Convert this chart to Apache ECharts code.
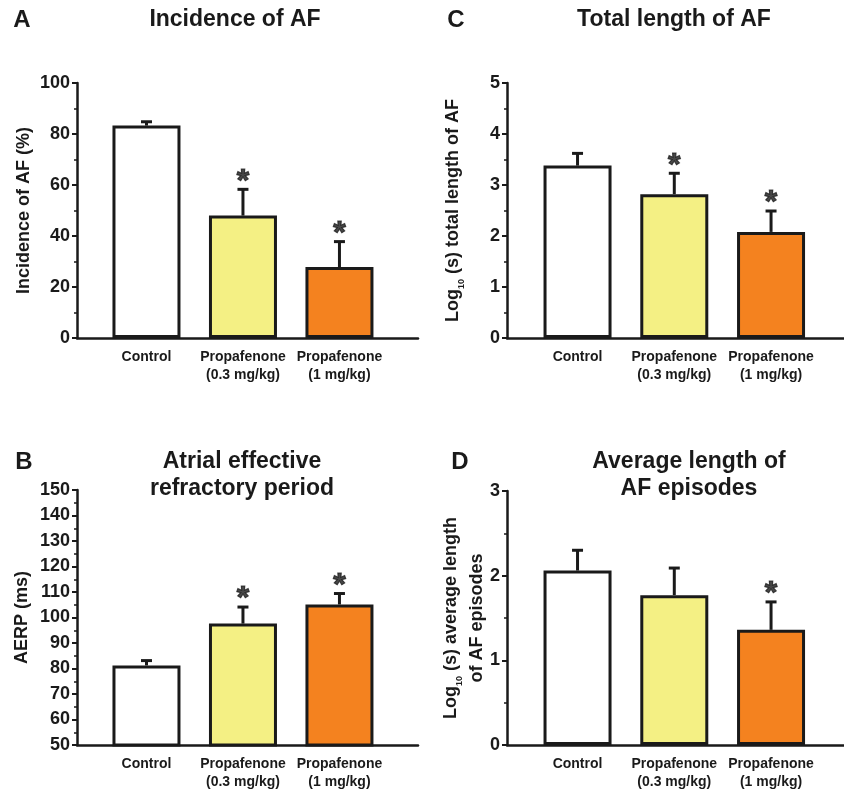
<!DOCTYPE html>
<html>
<head>
<meta charset="utf-8">
<script src="https://cdn.jsdelivr.net/npm/echarts@6/dist/echarts.min.js"></script>
<style>html,body{margin:0;padding:0;background:#fff}#c{width:844px;height:791px}</style>
</head>
<body>
<div id="c"></div>
<script>
// ---- data ----
const categories = ['Control', 'Propafenone\n(0.3 mg/kg)', 'Propafenone\n(1 mg/kg)'];
const incidenceMean = [83.3, 48.0, 27.8];
const incidenceSem  = [1.5, 10.3, 10.0];
const incidenceSig  = [false, true, true];
const aerpMean = [81.2, 97.6, 105.1];
const aerpSem  = [1.9, 6.5, 4.3];
const aerpSig  = [false, true, true];
const totalMean = [3.38, 2.82, 2.08];
const totalSem  = [0.24, 0.41, 0.41];
const totalSig  = [false, true, true];
const avgMean = [2.06, 1.77, 1.36];
const avgSem  = [0.24, 0.32, 0.33];
const avgSig  = [false, false, true];
const yTicksA = [0, 100, 20];
const yTicksB = [50, 150, 10];
const yTicksC = [0, 5, 1];
const yTicksD = [0, 3, 1];

// ---- styles ----
const barColors = ['#FFFFFF', '#F4F084', '#F4821F'];
const FONT = "'Liberation Sans', Arial, sans-serif";
const INK = '#1a1a1a';

const panels = [
  { grid: {left: 77, top: 83, width: 341, height: 255}, xr: [-0.72, 2.814], y: yTicksA,
    mean: incidenceMean, sem: incidenceSem, sig: incidenceSig,
    name: '{a|Incidence of AF (%)}', gap: 40 },
  { grid: {left: 77, top: 490, width: 341, height: 256}, xr: [-0.72, 2.814], y: yTicksB,
    mean: aerpMean, sem: aerpSem, sig: aerpSig,
    name: '{a|AERP (ms)}', gap: 42 },
  { grid: {left: 507, top: 83, width: 337, height: 255}, xr: [-0.729, 2.754], y: yTicksC,
    mean: totalMean, sem: totalSem, sig: totalSig,
    name: '{a|Log}{s|10}{a| (s) total length of AF}', gap: 41 },
  { grid: {left: 507, top: 491, width: 337, height: 256}, xr: [-0.729, 2.754], y: yTicksD,
    mean: avgMean, sem: avgSem, sig: avgSig,
    name: '{a|Log}{s|10}{a| (s) average length}\n{a|of AF episodes}', gap: 16 }
];

const grids = [], xAxes = [], yAxes = [], series = [];
panels.forEach((p, k) => {
  grids.push(p.grid);
  xAxes.push({
    type: 'value', gridIndex: k, min: p.xr[0], max: p.xr[1],
    axisLine: {show: true, onZero: false, lineStyle: {color: INK, width: 2.5}},
    axisTick: {show: false},
    splitLine: {show: false},
    axisLabel: {
      customValues: [0, 1, 2],
      formatter: v => categories[Math.round(v)] || '',
      color: INK, fontFamily: FONT, fontWeight: 'bold', fontSize: 14, lineHeight: 18, margin: 10
    }
  });
  yAxes.push({
    type: 'value', gridIndex: k, min: p.y[0], max: p.y[1], interval: p.y[2],
    axisLine: {show: true, onZero: false, lineStyle: {color: INK, width: 2.5}},
    axisTick: {show: true, length: 5, lineStyle: {color: INK, width: 2}},
    minorTick: {show: true, splitNumber: 2, length: 3, lineStyle: {color: INK, width: 1.5}},
    splitLine: {show: false},
    axisLabel: {color: INK, fontFamily: FONT, fontWeight: 'bold', fontSize: 18, margin: 7},
    name: p.name, nameLocation: 'middle', nameRotate: 90, nameGap: p.gap,
    nameTextStyle: {
      color: INK,
      rich: {
        a: {fontFamily: FONT, fontWeight: 'bold', fontSize: 18, lineHeight: 26, color: INK},
        s: {fontFamily: FONT, fontWeight: 'bold', fontSize: 9, lineHeight: 24, verticalAlign: 'bottom', color: INK}
      }
    }
  });
  series.push({
    type: 'bar', xAxisIndex: k, yAxisIndex: k, barWidth: 68,
    data: p.mean.map((v, i) => ({value: [i, v], itemStyle: {color: barColors[i]}})),
    itemStyle: {borderColor: INK, borderWidth: 3},
    silent: true, animation: false
  });
  series.push({
    type: 'custom', xAxisIndex: k, yAxisIndex: k, z: 5,
    encode: {x: 0, y: [1, 2]},
    data: p.mean.map((v, i) => [i, v, v + p.sem[i]]),
    renderItem: (params, api) => {
      const x = api.value(0);
      const a = api.coord([x, api.value(1)]);
      const b = api.coord([x, api.value(2)]);
      const half = 5.5;
      return {type: 'group', children: [
        {type: 'line', shape: {x1: a[0], y1: a[1], x2: b[0], y2: b[1]}, style: {stroke: INK, lineWidth: 3}},
        {type: 'line', shape: {x1: b[0] - half, y1: b[1], x2: b[0] + half, y2: b[1]}, style: {stroke: INK, lineWidth: 3}}
      ]};
    },
    animation: false, silent: true
  });
  series.push({
    type: 'scatter', xAxisIndex: k, yAxisIndex: k, z: 6,
    symbol: 'circle', symbolSize: 1, itemStyle: {color: 'rgba(0,0,0,0)'},
    data: p.mean.map((v, i) => p.sig[i] ? [i, v + p.sem[i]] : null).filter(d => d),
    label: {show: true, position: 'top', distance: -9, formatter: '*',
      color: INK, fontFamily: FONT, fontWeight: 'bold', fontSize: 32,
      textBorderColor: INK, textBorderWidth: 1.2},
    animation: false, silent: true
  });
});

function txt(x, y, s, size) {
  return {type: 'text', x: x, y: y, silent: true,
    style: {text: s, fill: INK, font: 'bold ' + size + 'px ' + FONT,
      textAlign: 'center', textVerticalAlign: 'middle', align: 'center', verticalAlign: 'middle'}};
}

const chart = echarts.init(document.getElementById('c'), null, {renderer: 'canvas'});
chart.setOption({
  backgroundColor: '#fff',
  animation: false,
  grid: grids, xAxis: xAxes, yAxis: yAxes, series: series,
  graphic: [
    txt(22, 20, 'A', 24), txt(235, 20, 'Incidence of AF', 23),
    txt(456, 20, 'C', 24), txt(674, 20, 'Total length of AF', 23),
    txt(24, 462, 'B', 24), txt(242, 462, 'Atrial effective', 23), txt(242, 489, 'refractory period', 23),
    txt(460, 462, 'D', 24), txt(689, 462, 'Average length of', 23), txt(689, 489, 'AF episodes', 23)
  ]
});
</script>
</body>
</html>
